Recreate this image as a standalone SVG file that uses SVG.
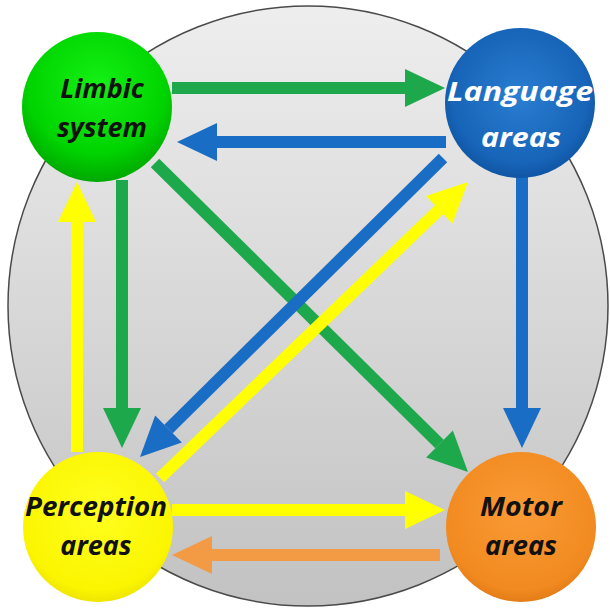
<svg xmlns="http://www.w3.org/2000/svg" width="610" height="609" viewBox="0 0 610 609">
<style>
.lbl{font-family:"Open Sans","Liberation Sans",sans-serif;font-weight:bold;font-style:italic;font-size:27px;text-anchor:middle}
.dark{fill:#111}
.light{fill:#ffffff}
.g{stroke:#1ea84c;stroke-width:12;fill:none}
.b{stroke:#1a6dc4;stroke-width:12;fill:none}
.y{stroke:#ffff00;stroke-width:12;fill:none}
.o{stroke:#f39a45;stroke-width:12;fill:none}
</style>
<defs>
<linearGradient id="bg" x1="0" y1="0" x2="0" y2="1">
<stop offset="0" stop-color="#eeeeee"/>
<stop offset="1" stop-color="#c2c2c2"/>
</linearGradient>
<radialGradient id="gLimbic" cx="0.5" cy="0.35" r="0.65">
<stop offset="0" stop-color="#14f014"/>
<stop offset="0.7" stop-color="#00d400"/>
<stop offset="1" stop-color="#00a800"/>
</radialGradient>
<radialGradient id="gLang" cx="0.5" cy="0.45" r="0.6">
<stop offset="0" stop-color="#2a7ed2"/>
<stop offset="0.75" stop-color="#1764b8"/>
<stop offset="1" stop-color="#0c4f9a"/>
</radialGradient>
<radialGradient id="gPerc" cx="0.5" cy="0.4" r="0.65">
<stop offset="0" stop-color="#ffff20"/>
<stop offset="0.8" stop-color="#fbf500"/>
<stop offset="1" stop-color="#e6dc00"/>
</radialGradient>
<radialGradient id="gMotor" cx="0.5" cy="0.4" r="0.65">
<stop offset="0" stop-color="#fa9a35"/>
<stop offset="0.8" stop-color="#f18a20"/>
<stop offset="1" stop-color="#dc7410"/>
</radialGradient>
<marker id="hg" markerUnits="userSpaceOnUse" markerWidth="42" markerHeight="40" refX="0" refY="20" orient="auto" overflow="visible"><path d="M0,1 L40,20 L0,39 z" fill="#1ea84c"/></marker>
<marker id="hb" markerUnits="userSpaceOnUse" markerWidth="42" markerHeight="40" refX="0" refY="20" orient="auto" overflow="visible"><path d="M0,1 L40,20 L0,39 z" fill="#1a6dc4"/></marker>
<marker id="hy" markerUnits="userSpaceOnUse" markerWidth="42" markerHeight="40" refX="0" refY="20" orient="auto" overflow="visible"><path d="M0,1 L40,20 L0,39 z" fill="#ffff00"/></marker>
<marker id="ho" markerUnits="userSpaceOnUse" markerWidth="42" markerHeight="40" refX="0" refY="20" orient="auto" overflow="visible"><path d="M0,1 L40,20 L0,39 z" fill="#f39a45"/></marker>
</defs>
<g id="background">
<circle cx="308" cy="306" r="300" fill="url(#bg)" stroke="#4a4a4a" stroke-width="1.5"/>
</g>
<g id="connectors">
<line class="g" x1="155" y1="163" x2="439.5" y2="443.9" marker-end="url(#hg)"/>
<line class="b" x1="443" y1="158" x2="168.5" y2="428.9" marker-end="url(#hb)"/>
<line class="y" x1="160" y1="478" x2="439.2" y2="209.7" marker-end="url(#hy)"/>
<line class="g" x1="172" y1="88" x2="405" y2="88" marker-end="url(#hg)"/>
<line class="b" x1="446" y1="142" x2="217" y2="142" marker-end="url(#hb)"/>
<line class="g" x1="122" y1="180" x2="122" y2="408" marker-end="url(#hg)"/>
<line class="y" x1="77" y1="452" x2="77" y2="222" marker-end="url(#hy)"/>
<line class="b" x1="522" y1="176" x2="522" y2="408" marker-end="url(#hb)"/>
<line class="y" x1="172" y1="510" x2="405" y2="510" marker-end="url(#hy)"/>
<line class="o" x1="440" y1="555" x2="212" y2="555" marker-end="url(#ho)"/>
</g>
<g id="limbic">
<circle cx="97" cy="107" r="75" fill="url(#gLimbic)"/>
<text class="lbl dark" x="102" y="98">Limbic</text>
<text class="lbl dark" x="102" y="137">system</text>
</g>
<g id="language">
<circle cx="520" cy="103" r="75" fill="url(#gLang)"/>
<text class="lbl light" x="520" y="101" textLength="146" lengthAdjust="spacingAndGlyphs">Language</text>
<text class="lbl light" x="521" y="147" textLength="80" lengthAdjust="spacingAndGlyphs">areas</text>
</g>
<g id="perception">
<circle cx="98" cy="527" r="75" fill="url(#gPerc)"/>
<text class="lbl dark" x="96" y="516" textLength="142" lengthAdjust="spacingAndGlyphs">Perception</text>
<text class="lbl dark" x="96" y="555">areas</text>
</g>
<g id="motor">
<circle cx="521" cy="527" r="75" fill="url(#gMotor)"/>
<text class="lbl dark" x="521" y="516" textLength="82" lengthAdjust="spacingAndGlyphs">Motor</text>
<text class="lbl dark" x="521" y="555" textLength="72" lengthAdjust="spacingAndGlyphs">areas</text>
</g>
</svg>
